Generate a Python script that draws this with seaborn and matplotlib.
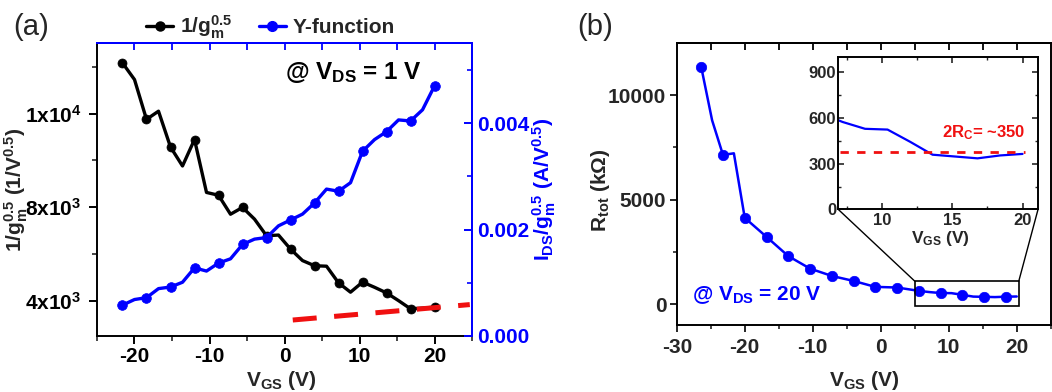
import matplotlib
matplotlib.use('Agg')
import matplotlib.pyplot as plt
import seaborn as sns
from matplotlib.patches import Rectangle, ConnectionPatch
from matplotlib.lines import Line2D
from matplotlib.ticker import MultipleLocator, FixedLocator, FixedFormatter

# ---------------- data ----------------
# panel (a)
vgs_a = [-21.6, -20.0, -18.4, -16.8, -15.2, -13.6, -12.0, -10.4, -8.8, -7.2,
         -5.6, -4.0, -2.4, -0.8, 0.8, 2.4, 4.0, 5.6, 7.2, 8.8,
         10.4, 12.0, 13.6, 15.2, 16.8, 18.4, 20.0]
inv_gm = [14160, 13450, 11750, 12100, 10570, 9760, 10890, 8630, 8510, 7700,
          7990, 7490, 6780, 6810, 6210, 5720, 5500, 5480, 4770, 4370,
          4800, 4580, 4340, 4010, 3660, 3690, 3730]
yfunc = [0.00058, 0.000685, 0.00072, 0.00089, 0.00092, 0.00101, 0.00128, 0.00122, 0.00137, 0.00145,
         0.00172, 0.00182, 0.00185, 0.00207, 0.00218, 0.00229, 0.00250, 0.00276, 0.00272, 0.00288,
         0.00347, 0.00369, 0.00384, 0.00406, 0.00404, 0.00425, 0.00470]
fit_x = [1.1, 24.7]
fit_y = [0.00030, 0.00059]

# panel (b)
rtot_x = [-26.4, -24.8, -23.2, -21.6, -20.0, -16.8, -13.6, -10.4, -7.2, -4.0,
          -0.8, 2.4, 5.6, 7.2, 8.8, 10.4, 12.0, 13.6, 15.2, 16.8, 18.4, 20.0]
rtot = [11350, 8800, 7140, 7220, 4130, 3220, 2300, 1700, 1350, 1110,
        825, 795, 635, 575, 530, 525, 445, 360, 348, 336, 355, 365]
rtot_marked = [True, False, True, False, True, True, True, True, True, True,
               True, True, True, False, True, False, True, False, True, False, True, False]
rc_x = [7.0, 20.2]
rc_y = [380, 380]
zoom_box = [5.0, -100, 20.3, 1100]   # x0, y0, x1, y1

left_ticks = [4000, 8000, 12000]
left_ticklabels = ['4x10$^{3}$', '8x10$^{3}$', '1x10$^{4}$']
right_ticks = [0.0, 0.002, 0.004]
right_ticklabels = ['0.000', '0.002', '0.004']

BLUE = '#0000FF'
RED = '#F01010'

# ---------------- style ----------------
sns.set_theme(style='ticks')
plt.rcParams['font.family'] = ['Liberation Sans', 'DejaVu Sans']
plt.rcParams['font.weight'] = 'bold'
plt.rcParams['axes.labelweight'] = 'bold'
plt.rcParams['axes.unicode_minus'] = False
plt.rcParams['mathtext.fontset'] = 'custom'
for k in ['rm', 'it', 'bf', 'sf']:
    plt.rcParams['mathtext.' + k] = 'Liberation Sans:bold'
plt.rcParams['axes.linewidth'] = 1.4
plt.rcParams['axes.edgecolor'] = 'black'

fig = plt.figure(figsize=(10.52, 3.92), dpi=100)
axa = fig.add_axes([0.0922, 0.1429, 0.3565, 0.7467])
axb = fig.add_axes([0.6433, 0.1709, 0.3555, 0.7194])
axi = fig.add_axes([0.7969, 0.4656, 0.1898, 0.3883])

# ---------------- panel (a) ----------------
sns.lineplot(x=vgs_a, y=inv_gm, ax=axa, color='black', lw=2.4, marker='o',
             markersize=6.5, markevery=2, markeredgecolor='black',
             markeredgewidth=0.5, estimator=None, sort=False)
ax2 = axa.twinx()
ax2.set_position(axa.get_position())
sns.lineplot(x=vgs_a, y=yfunc, ax=ax2, color=BLUE, lw=2.4, marker='o',
             markersize=7, markevery=2, markeredgecolor=BLUE,
             markeredgewidth=0.5, estimator=None, sort=False)
sns.lineplot(x=fit_x, y=fit_y, ax=ax2, color=RED, lw=3.6,
             linestyle=(0, (4.8, 3.5)), estimator=None, sort=False)

axa.set_xlim(-25, 25)
axa.set_ylim(2500, 15000)
ax2.set_ylim(0, 0.0055)

axa.xaxis.set_major_locator(MultipleLocator(10))
axa.xaxis.set_minor_locator(MultipleLocator(5))
axa.yaxis.set_major_locator(FixedLocator(left_ticks))
axa.yaxis.set_major_formatter(FixedFormatter(left_ticklabels))
axa.yaxis.set_minor_locator(FixedLocator([6000, 10000, 14000]))
axa.tick_params(axis='both', which='major', direction='out', length=6, width=1.4,
                labelsize=15, colors='black')
axa.tick_params(axis='both', which='minor', direction='out', length=3.5, width=1.2)
axa.tick_params(axis='y', pad=5)
axa.tick_params(axis='x', pad=2)
axa.tick_params(top=False, right=False)

ax2.yaxis.set_major_locator(FixedLocator(right_ticks))
ax2.yaxis.set_major_formatter(FixedFormatter(right_ticklabels))
ax2.yaxis.set_minor_locator(FixedLocator([0.001, 0.003, 0.005]))
ax2.tick_params(axis='y', which='major', direction='in', length=6, width=1.4,
                labelsize=15, colors=BLUE, pad=4)
ax2.tick_params(axis='y', which='minor', direction='in', length=3.5, width=1.2, colors=BLUE)
for ax in (axa, ax2):
    ax.spines['top'].set_color(BLUE)
    ax.spines['right'].set_color(BLUE)
ax2.spines['left'].set_visible(False)
ax2.spines['bottom'].set_visible(False)

secx = axa.secondary_xaxis('top')
secx.set_xticks([-20, -15, -10, -5, 0, 5, 10, 15, 20])
secx.tick_params(direction='in', length=5, width=1.3, color=BLUE, labeltop=False)
secx.spines['top'].set_color(BLUE)
secx.spines['top'].set_linewidth(1.4)

axa.set_xlabel('V$_{\\mathrm{GS}}$ (V)', fontsize=15)
axa.xaxis.set_label_coords(0.49, -0.113)
axa.set_ylabel('1/g$_{\\mathrm{m}}^{\\mathrm{0.5}}$ (1/V$^{\\mathrm{0.5}}$)', fontsize=15)
axa.yaxis.set_label_coords(-0.178, 0.5)
ax2.set_ylabel('I$_{\\mathrm{DS}}$/g$_{\\mathrm{m}}^{\\mathrm{0.5}}$ (A/V$^{\\mathrm{0.5}}$)',
               fontsize=15, color=BLUE)
ax2.yaxis.set_label_coords(1.155, 0.5)

axa.text(0.50, 0.90, '@ V$_{\\mathrm{DS}}$ = 1 V', transform=axa.transAxes,
         fontsize=17.5, color='black', ha='left', va='center')

handles = [Line2D([], [], color='black', lw=2.4, marker='o', markersize=6.5),
           Line2D([], [], color=BLUE, lw=2.4, marker='o', markersize=7)]
fig.legend(handles, ['1/g$_{\\mathrm{m}}^{\\mathrm{0.5}}$', 'Y-function'],
           loc='center', bbox_to_anchor=(0.257, 0.931), ncol=2, frameon=False,
           fontsize=15, handlelength=1.3, handletextpad=0.3, columnspacing=1.3)

fig.text(13 / 1052, 1 - 27 / 392, '(a)', fontsize=21, fontweight='normal', va='center')
fig.text(577 / 1052, 1 - 27 / 392, '(b)', fontsize=21, fontweight='normal', va='center')

# ---------------- panel (b) ----------------
sns.lineplot(x=rtot_x, y=rtot, ax=axb, color=BLUE, lw=1.8, marker='o',
             markersize=7.5, markevery=rtot_marked, markeredgecolor=BLUE,
             markeredgewidth=0.5, estimator=None, sort=False)
axb.set_xlim(-30, 25)
axb.set_ylim(-1000, 12500)
axb.xaxis.set_major_locator(MultipleLocator(10))
axb.xaxis.set_minor_locator(MultipleLocator(5))
axb.yaxis.set_major_locator(FixedLocator([0, 5000, 10000]))
axb.yaxis.set_minor_locator(FixedLocator([2500, 7500]))
axb.tick_params(axis='both', which='major', direction='out', length=5, width=1.4, labelsize=15)
axb.tick_params(axis='both', which='minor', direction='out', length=3, width=1.2)
axb.tick_params(axis='y', pad=2.5)
axb.tick_params(axis='x', pad=4)
axb.tick_params(top=False, right=False)
secb = axb.secondary_xaxis('top')
secb.set_xticks([-25, -20, -15, -10, -5, 0, 5, 10, 15, 20])
secb.tick_params(direction='in', length=5, width=1.3, color='black', labeltop=False)
secb.spines['top'].set_linewidth(1.4)

axb.set_xlabel('V$_{\\mathrm{GS}}$ (V)', fontsize=15)
axb.xaxis.set_label_coords(0.50, -0.156)
axb.set_ylabel('R$_{\\mathrm{tot}}$ (k\u03a9)', fontsize=15)
axb.yaxis.set_label_coords(-0.173, 0.479)
axb.text(0.04, 0.106, '@ V$_{\\mathrm{DS}}$ = 20 V', transform=axb.transAxes,
         fontsize=15, color=BLUE, ha='left', va='center')

x0, y0, x1, y1 = zoom_box
axb.add_patch(Rectangle((x0, y0), x1 - x0, y1 - y0, fill=False, ec='black', lw=1.2, zorder=3))
for xa, xb in ((x0, 0), (x1, 1)):
    con = ConnectionPatch(xyA=(xa, y1), coordsA=axb.transData,
                          xyB=(xb, 0), coordsB=axi.transAxes, color='black', lw=1.0)
    fig.add_artist(con)

# ---------------- inset ----------------
sns.lineplot(x=rtot_x, y=rtot, ax=axi, color=BLUE, lw=1.6, estimator=None, sort=False)
sns.lineplot(x=rc_x, y=rc_y, ax=axi, color=RED, lw=2.0,
             linestyle=(0, (3, 3)), estimator=None, sort=False)
axi.set_xlim(6.9, 21.1)
axi.set_ylim(0, 1000)
axi.xaxis.set_major_locator(FixedLocator([10, 15, 20]))
axi.xaxis.set_minor_locator(FixedLocator([7.5, 12.5, 17.5]))
axi.yaxis.set_major_locator(FixedLocator([0, 300, 600, 900]))
axi.yaxis.set_minor_locator(FixedLocator([150, 450, 750]))
axi.tick_params(axis='both', which='major', direction='in', length=4, width=1.2,
                labelsize=12, top=True, right=True)
axi.tick_params(axis='both', which='minor', direction='in', length=2.5, width=1.0,
                top=True, right=True)
axi.tick_params(axis='y', pad=1.5)
axi.tick_params(axis='x', pad=2.5)
axi.set_xlabel('V$_{\\mathrm{GS}}$ (V)', fontsize=12.5)
axi.xaxis.set_label_coords(0.514, -0.128)
axi.set_ylabel('')
axi.text(0.518, 0.503, '2R$_{\\mathrm{C}}$= ~350', transform=axi.transAxes,
         fontsize=12, color=RED, ha='left', va='center')

fig.savefig('out.png', dpi=100)
